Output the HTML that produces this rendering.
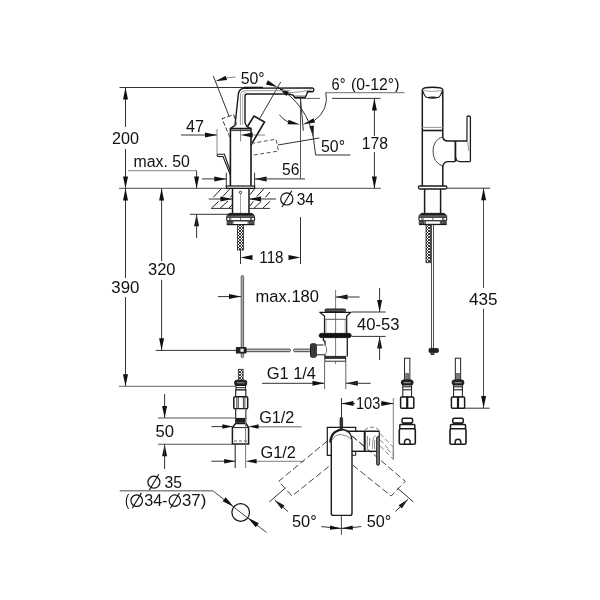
<!DOCTYPE html>
<html><head><meta charset="utf-8"><title>Faucet dimension drawing</title>
<style>
html,body{margin:0;padding:0;background:#fff;}
body{width:600px;height:600px;overflow:hidden;}
svg{display:block;will-change:transform;}
text{font-family:"Liberation Sans",sans-serif;fill:#111;}
</style></head><body>
<svg width="600" height="600" viewBox="0 0 600 600">
<defs>
<pattern id="braid" width="3" height="3" patternUnits="userSpaceOnUse">
<rect width="3" height="3" fill="#fff"/><path d="M0,3 L3,0 M0,0 L3,3" stroke="#222" stroke-width="0.9"/>
</pattern>
</defs>
<rect width="600" height="600" fill="#fff"/>
<line x1="119.5" y1="87.5" x2="263" y2="87.5" stroke="#333" stroke-width="1" />
<line x1="125.5" y1="87.5" x2="125.5" y2="127" stroke="#333" stroke-width="1" />
<line x1="125.5" y1="149" x2="125.5" y2="188.4" stroke="#333" stroke-width="1" />
<polygon points="125.50,87.50 128.00,99.50 123.00,99.50" fill="#111"/>
<polygon points="125.50,188.40 123.00,176.40 128.00,176.40" fill="#111"/>
<line x1="119" y1="188.4" x2="381" y2="188.4" stroke="#707070" stroke-width="1.2" />
<line x1="125.5" y1="188.4" x2="125.5" y2="278" stroke="#333" stroke-width="1" />
<line x1="125.5" y1="297" x2="125.5" y2="386.3" stroke="#333" stroke-width="1" />
<polygon points="125.50,188.40 128.00,200.40 123.00,200.40" fill="#111"/>
<polygon points="125.50,386.30 123.00,374.30 128.00,374.30" fill="#111"/>
<line x1="119" y1="386.3" x2="236" y2="386.3" stroke="#808080" stroke-width="1.2" />
<line x1="161.6" y1="188.4" x2="161.6" y2="261" stroke="#333" stroke-width="1" />
<line x1="161.6" y1="279.8" x2="161.6" y2="350.3" stroke="#333" stroke-width="1" />
<polygon points="161.60,188.40 164.10,200.40 159.10,200.40" fill="#111"/>
<polygon points="161.60,350.30 159.10,338.30 164.10,338.30" fill="#111"/>
<line x1="155.7" y1="350.4" x2="236.4" y2="350.4" stroke="#333" stroke-width="1" />
<text transform="translate(112.00,143.6) scale(0.9507,1)" font-size="17">200</text>
<text transform="translate(111.30,292.8) scale(0.9894,1)" font-size="17">390</text>
<text transform="translate(148.00,275) scale(0.9718,1)" font-size="17">320</text>
<line x1="128" y1="170.6" x2="196.6" y2="170.6" stroke="#999" stroke-width="1.4" />
<line x1="196.6" y1="170.6" x2="196.6" y2="188.4" stroke="#333" stroke-width="1" />
<polygon points="196.60,188.40 194.10,176.40 199.10,176.40" fill="#111"/>
<polygon points="196.60,214.30 199.10,226.30 194.10,226.30" fill="#111"/>
<line x1="196.6" y1="214.3" x2="196.6" y2="238" stroke="#333" stroke-width="1" />
<line x1="190" y1="214.3" x2="232" y2="214.3" stroke="#333" stroke-width="1" />
<text transform="translate(133.60,167) scale(0.9322,1)" font-size="17">max. 50</text>
<line x1="181" y1="135" x2="217" y2="135" stroke="#333" stroke-width="1" />
<polygon points="217.00,135.00 205.00,137.50 205.00,132.50" fill="#111"/>
<line x1="217" y1="129" x2="217" y2="154" stroke="#888" stroke-width="1" />
<line x1="250" y1="135" x2="265" y2="135" stroke="#999" stroke-width="1.2" />
<line x1="240.6" y1="128" x2="240.6" y2="141.5" stroke="#888" stroke-width="1" />
<polygon points="240.60,135.00 252.60,132.50 252.60,137.50" fill="#111"/>
<text transform="translate(186.00,131.6) scale(0.9524,1)" font-size="17">47</text>
<line x1="202" y1="178.9" x2="226.3" y2="178.9" stroke="#333" stroke-width="1" />
<polygon points="226.30,178.90 214.30,181.40 214.30,176.40" fill="#111"/>
<polygon points="254.60,178.90 266.60,176.40 266.60,181.40" fill="#111"/>
<line x1="254.6" y1="178.9" x2="305" y2="178.9" stroke="#333" stroke-width="1" />
<line x1="226.3" y1="172.7" x2="226.3" y2="186" stroke="#333" stroke-width="1" />
<line x1="254.6" y1="172.7" x2="254.6" y2="186" stroke="#333" stroke-width="1" />
<line x1="300.5" y1="98.4" x2="300.5" y2="179" stroke="#555" stroke-width="1" />
<text transform="translate(282.00,175) scale(0.9206,1)" font-size="17">56</text>
<line x1="332" y1="98.4" x2="380.5" y2="98.4" stroke="#333" stroke-width="1" />
<line x1="294.7" y1="98.4" x2="320" y2="98.4" stroke="#666" stroke-width="1" />
<line x1="374.4" y1="98.4" x2="374.4" y2="136" stroke="#333" stroke-width="1" />
<line x1="374.4" y1="152" x2="374.4" y2="188.4" stroke="#333" stroke-width="1" />
<polygon points="374.40,98.40 376.90,110.40 371.90,110.40" fill="#111"/>
<polygon points="374.40,188.40 371.90,176.40 376.90,176.40" fill="#111"/>
<text transform="translate(361.80,149) scale(0.9225,1)" font-size="17">178</text>
<text transform="translate(331.60,89.6) scale(0.8589,1)" font-size="17">6°</text>
<text transform="translate(351.00,89.6) scale(0.9290,1)" font-size="17">(0-12°)</text>
<path d="M404.6,92.6 L325.6,92.6" stroke="#8a8a8a" stroke-width="1.3" fill="none" />
<path d="M325.8,92.6 A26,26 0 0 1 314.5,120.4" stroke="#333" stroke-width="1" fill="none" />
<polygon points="302.80,124.50 313.63,118.23 315.16,122.56" fill="#111"/>
<path d="M279.3,114.7 A26,26 0 0 0 288,122" stroke="#333" stroke-width="1" fill="none" />
<polygon points="300.00,124.50 287.59,124.21 288.54,119.71" fill="#111"/>
<line x1="300.5" y1="98.4" x2="303.3" y2="130.7" stroke="#333" stroke-width="1" />
<text transform="translate(321.00,151.6) scale(0.9339,1)" font-size="17">50°</text>
<path d="M350.4,155 L315.6,155 L313.3,137" stroke="#333" stroke-width="1" fill="none" />
<polygon points="313.50,137.60 309.25,126.14 313.79,125.38" fill="#111"/>
<path d="M277.8,87.3 A73,73 0 0 1 313.4,137.5" stroke="#333" stroke-width="1" fill="none" />
<polygon points="277.80,87.30 265.89,84.51 267.88,80.14" fill="#111"/>
<polygon points="277.80,87.30 289.13,91.92 286.48,95.92" fill="#111"/>
<line x1="280.7" y1="82" x2="260" y2="118" stroke="#333" stroke-width="1" />
<line x1="278" y1="145" x2="319.3" y2="138" stroke="#333" stroke-width="1" />
<text transform="translate(240.70,84) scale(0.9339,1)" font-size="17">50°</text>
<line x1="213.3" y1="76" x2="229" y2="116" stroke="#333" stroke-width="1" />
<polygon points="215.40,81.30 225.74,75.79 227.06,80.09" fill="#111"/>
<line x1="226.3" y1="78" x2="235.7" y2="77" stroke="#888" stroke-width="1" />
<path d="M230.4,186 L230.4,128.6 L251,128.6 L251,186" stroke="#1a1a1a" stroke-width="1.6" fill="none" />
<line x1="230.4" y1="130.6" x2="251" y2="130.6" stroke="#333" stroke-width="1" />
<rect x="226.3" y="186" width="28.3" height="2.4" rx="0" stroke="#1a1a1a" stroke-width="1.2" fill="none"/>
<path d="M230.4,128.6 L235,125.3 L237,106.7 L238.3,94.7 Q239,88.2 244.5,88.2 L312.2,87.9 Q314.4,88.6 313.5,90.8 L312.6,91.7 L307.6,91.7 L306.4,95 L305,97.5 L294.7,97.5 L293,95.2 L289,94 L247,94 Q245,94 245,96.7 L245,122.7 L247,126.7 L251,128.6" stroke="#1a1a1a" stroke-width="1.4" fill="none" />
<line x1="294.3" y1="96" x2="305.8" y2="96" stroke="#444" stroke-width="0.8" />
<path d="M288,92.7 Q299,92.5 311.8,89.9" stroke="#888" stroke-width="0.9" fill="none" />
<path d="M240.4,125 L240.4,96 Q240.4,90.8 245,90.8 L290,90.6" stroke="#999" stroke-width="1" fill="none" />
<path d="M242.6,125 L242.6,97 Q242.6,92.6 246,92.6" stroke="#bbb" stroke-width="1" fill="none" />
<line x1="263" y1="87.5" x2="244" y2="87.5" stroke="#1a1a1a" stroke-width="1.6" />
<path d="M247.5,126.5 L254,116 L264.5,122 L251,145" stroke="#1a1a1a" stroke-width="1.6" fill="none" />
<path d="M230,137.5 L222,118.7 L233.7,114.7 L236.5,124.5" stroke="#333" stroke-width="1" fill="none" stroke-dasharray="4.5 2"/>
<path d="M251,143.5 L276,139.2 L278.5,151 L251,155.5" stroke="#555" stroke-width="1" fill="none" stroke-dasharray="4 2.5"/>
<path d="M217.8,154.2 L224.4,154.2 L230.4,171.3" stroke="#1a1a1a" stroke-width="1.1" fill="none" />
<path d="M217.8,156.5 L223,156.5 L230.4,175" stroke="#1a1a1a" stroke-width="1.1" fill="none" />
<path d="M217.8,154.2 Q216.3,155.3 217.8,156.5" stroke="#1a1a1a" stroke-width="1.1" fill="none" />
<path d="M232.5,188.4 L232.5,213.3 M249,188.4 L249,213.3" stroke="#1a1a1a" stroke-width="1.5" fill="none" />
<circle cx="240.5" cy="192.4" r="1.2" fill="none" stroke="#222" stroke-width="0.9"/>
<line x1="240.5" y1="194" x2="240.5" y2="220" stroke="#888" stroke-width="0.8" />
<line x1="213.3" y1="197.3" x2="221.3" y2="188.7" stroke="#222" stroke-width="1" />
<line x1="222.7" y1="196.7" x2="230" y2="188.7" stroke="#222" stroke-width="1" />
<line x1="230.4" y1="197.3" x2="232.4" y2="195" stroke="#222" stroke-width="1" />
<line x1="211.3" y1="208.3" x2="218.7" y2="201.3" stroke="#222" stroke-width="1" />
<line x1="220" y1="208.3" x2="228" y2="201" stroke="#222" stroke-width="1" />
<line x1="228.7" y1="208.3" x2="232.4" y2="204.5" stroke="#222" stroke-width="1" />
<line x1="250" y1="194.7" x2="254.7" y2="188.7" stroke="#222" stroke-width="1" />
<line x1="256.7" y1="196.7" x2="264" y2="188.7" stroke="#222" stroke-width="1" />
<line x1="265.3" y1="197.3" x2="270" y2="192" stroke="#222" stroke-width="1" />
<line x1="250" y1="206" x2="253.3" y2="201.3" stroke="#222" stroke-width="1" />
<line x1="254" y1="208.3" x2="261.3" y2="201.3" stroke="#222" stroke-width="1" />
<line x1="262.7" y1="208.3" x2="270" y2="201.3" stroke="#222" stroke-width="1" />
<line x1="208.7" y1="199" x2="232.4" y2="199" stroke="#333" stroke-width="1" />
<polygon points="232.40,199.00 220.40,201.50 220.40,196.50" fill="#111"/>
<line x1="249" y1="199" x2="276" y2="199" stroke="#333" stroke-width="1" />
<polygon points="249.00,199.00 261.00,196.50 261.00,201.50" fill="#111"/>
<line x1="211" y1="208.4" x2="232.4" y2="208.4" stroke="#333" stroke-width="1" />
<line x1="249" y1="208.4" x2="270" y2="208.4" stroke="#333" stroke-width="1" />
<circle cx="286.8" cy="198.9" r="6.1" fill="none" stroke="#111" stroke-width="1.2"/>
<line x1="282.04200000000003" y1="207.013" x2="291.802" y2="190.787" stroke="#111" stroke-width="1.1" />
<text transform="translate(296.70,205) scale(0.9153,1)" font-size="17">34</text>
<path d="M229.29999999999998,213.4 L252.0,213.4 L254.5,215.8 L254.5,217.3 L226.7,217.3 L226.7,215.8 Z" stroke="#1a1a1a" stroke-width="0.8" fill="#8a8a8a" />
<path d="M229.29999999999998,213.8 L252.0,213.8 L253.6,215.20000000000002 L227.6,215.20000000000002 Z" stroke="#1a1a1a" stroke-width="0.8" fill="#1a1a1a" />
<rect x="226.7" y="217.3" width="27.9" height="3.6" rx="1.2" stroke="#1a1a1a" stroke-width="1.1" fill="#fff"/>
<line x1="229.6" y1="217.6" x2="229.6" y2="220.6" stroke="#333" stroke-width="0.8" />
<line x1="230.79999999999998" y1="217.6" x2="230.79999999999998" y2="220.6" stroke="#333" stroke-width="0.8" />
<line x1="240.6" y1="217.6" x2="240.6" y2="220.6" stroke="#333" stroke-width="0.8" />
<line x1="250.4" y1="217.6" x2="250.4" y2="220.6" stroke="#333" stroke-width="0.8" />
<line x1="251.6" y1="217.6" x2="251.6" y2="220.6" stroke="#333" stroke-width="0.8" />
<rect x="233.0" y="221.0" width="15.1" height="3.4" rx="0" stroke="#1a1a1a" stroke-width="0.8" fill="#fff"/>
<rect x="227.0" y="221.1" width="5" height="3.3" rx="0.8" stroke="#1a1a1a" stroke-width="0.6" fill="#555"/>
<rect x="249.2" y="221.1" width="5" height="3.3" rx="0.8" stroke="#1a1a1a" stroke-width="0.6" fill="#555"/>
<line x1="226.79999999999998" y1="224.6" x2="254.4" y2="224.6" stroke="#1a1a1a" stroke-width="1.2" />
<rect x="237.4" y="224.8" width="6" height="25.19999999999999" fill="url(#braid)" stroke="#222" stroke-width="0.8"/>
<line x1="240.5" y1="250" x2="240.5" y2="264" stroke="#333" stroke-width="1" />
<line x1="300.5" y1="217" x2="300.5" y2="264" stroke="#333" stroke-width="1" />
<polygon points="240.50,257.60 252.50,255.10 252.50,260.10" fill="#111"/>
<polygon points="300.50,257.60 288.50,260.10 288.50,255.10" fill="#111"/>
<text transform="translate(259.30,263) scale(0.8967,1)" font-size="17">118</text>
<rect x="241.2" y="275.6" width="2.4" height="82" rx="1" stroke="#444" stroke-width="0.8" fill="#aaa"/>
<line x1="218" y1="296.6" x2="241" y2="296.6" stroke="#333" stroke-width="1" />
<polygon points="241.00,296.60 229.00,299.10 229.00,294.10" fill="#111"/>
<text transform="translate(255.60,302) scale(0.9724,1)" font-size="17">max.180</text>
<rect x="246" y="349.1" width="44.4" height="2.6" rx="1" stroke="#333" stroke-width="0.9" fill="#ccc"/>
<rect x="293.6" y="349.1" width="17" height="2.6" rx="1" stroke="#333" stroke-width="0.9" fill="#ccc"/>
<rect x="236.4" y="347.6" width="9.6" height="5.4" rx="0" stroke="#1a1a1a" stroke-width="1" fill="#222"/>
<rect x="240.8" y="349" width="2.6" height="2.6" rx="0" stroke="#fff" stroke-width="0.6" fill="#ddd"/>
<line x1="335.6" y1="290" x2="335.6" y2="364" stroke="#555" stroke-width="0.8" />
<polygon points="335.60,297.00 347.60,294.50 347.60,299.50" fill="#111"/>
<line x1="335.6" y1="297" x2="359.6" y2="297" stroke="#333" stroke-width="1" />
<rect x="325" y="309" width="20.6" height="2.8" rx="1.2" stroke="#1a1a1a" stroke-width="1" fill="#555"/>
<line x1="319.3" y1="312.4" x2="351.4" y2="312.4" stroke="#1a1a1a" stroke-width="1.4" />
<path d="M320.5,313 L324.5,316 L324.5,333.3 M350.2,313 L346.7,316 L346.7,333.3" stroke="#1a1a1a" stroke-width="1.2" fill="none" />
<line x1="324.5" y1="319.3" x2="346.7" y2="319.3" stroke="#444" stroke-width="0.9" />
<line x1="326" y1="319.3" x2="326" y2="333" stroke="#777" stroke-width="0.7" />
<line x1="345.2" y1="319.3" x2="345.2" y2="333" stroke="#777" stroke-width="0.7" />
<rect x="319.2" y="333.4" width="32" height="4.2" rx="2.1" stroke="#1a1a1a" stroke-width="1" fill="#111"/>
<path d="M323.4,337.6 L323.4,340.5 L325,341.2 L325,345 M325,354.8 L325,356.4 M347.3,337.6 L347.3,356.4" stroke="#1a1a1a" stroke-width="1.3" fill="none" />
<path d="M325,345 Q328.5,350 325,354.8" stroke="#555" stroke-width="0.8" fill="none" />
<rect x="324.9" y="356.3" width="20.8" height="2" rx="0" stroke="#1a1a1a" stroke-width="0.8" fill="#333"/>
<rect x="324.9" y="358.3" width="20.8" height="2.9" rx="0" stroke="#1a1a1a" stroke-width="0.9" fill="#fff"/>
<rect x="310.5" y="343.8" width="5.8" height="13.4" rx="1.5" stroke="#1a1a1a" stroke-width="1" fill="#555"/>
<line x1="311.8" y1="344.5" x2="311.8" y2="356.5" stroke="#111" stroke-width="0.6" />
<line x1="313.2" y1="344.5" x2="313.2" y2="356.5" stroke="#111" stroke-width="0.6" />
<line x1="314.6" y1="344.5" x2="314.6" y2="356.5" stroke="#111" stroke-width="0.6" />
<path d="M316.3,345 L323.4,345 M316.3,354.8 L325,354.8" stroke="#1a1a1a" stroke-width="1" fill="none" />
<line x1="351.6" y1="312" x2="385.6" y2="312" stroke="#333" stroke-width="1" />
<line x1="351.6" y1="336.4" x2="385.6" y2="336.4" stroke="#333" stroke-width="1" />
<line x1="379.6" y1="288" x2="379.6" y2="312" stroke="#333" stroke-width="1" />
<polygon points="379.60,312.00 377.10,300.00 382.10,300.00" fill="#111"/>
<polygon points="379.60,336.40 382.10,348.40 377.10,348.40" fill="#111"/>
<line x1="379.6" y1="336.4" x2="379.6" y2="360" stroke="#333" stroke-width="1" />
<text transform="translate(357.00,330) scale(0.9793,1)" font-size="17">40-53</text>
<text transform="translate(266.70,379.3) scale(0.9667,1)" font-size="17">G1 1/4</text>
<line x1="262" y1="383.3" x2="324.5" y2="383.3" stroke="#333" stroke-width="1" />
<polygon points="324.50,383.30 312.50,385.80 312.50,380.80" fill="#111"/>
<polygon points="345.80,383.30 357.80,380.80 357.80,385.80" fill="#111"/>
<line x1="345.8" y1="383.3" x2="370.7" y2="383.3" stroke="#333" stroke-width="1" />
<line x1="324.6" y1="361.2" x2="324.6" y2="389" stroke="#666" stroke-width="1" />
<line x1="345.8" y1="361.2" x2="345.8" y2="389" stroke="#666" stroke-width="1" />
<rect x="238.3" y="369.3" width="4.8" height="11" rx="0" stroke="#222" stroke-width="0.8" fill="url(#braid)"/>
<rect x="234.7" y="380.2" width="12" height="5.3" rx="2" stroke="#1a1a1a" stroke-width="1" fill="#222"/>
<line x1="237" y1="382.8" x2="244.5" y2="382.8" stroke="#bbb" stroke-width="0.8" />
<rect x="236" y="385.5" width="9.6" height="4.5" rx="0" stroke="#1a1a1a" stroke-width="1" fill="#fff"/>
<line x1="236" y1="387.7" x2="245.6" y2="387.7" stroke="#222" stroke-width="1" />
<rect x="235.7" y="390" width="10.1" height="6.7" rx="0" stroke="#1a1a1a" stroke-width="1.1" fill="#fff"/>
<rect x="233.8" y="396.7" width="13.9" height="12" rx="1.2" stroke="#1a1a1a" stroke-width="1.5" fill="#fff"/>
<line x1="236.8" y1="397" x2="236.8" y2="408.5" stroke="#333" stroke-width="0.9" />
<line x1="238.3" y1="397" x2="238.3" y2="408.5" stroke="#333" stroke-width="0.9" />
<line x1="243.4" y1="397" x2="243.4" y2="408.5" stroke="#333" stroke-width="0.9" />
<line x1="244.9" y1="397" x2="244.9" y2="408.5" stroke="#333" stroke-width="0.9" />
<rect x="235.7" y="408.7" width="10.1" height="9.8" rx="0" stroke="#1a1a1a" stroke-width="1.1" fill="#fff"/>
<rect x="235.7" y="418.5" width="10.1" height="3.7" rx="0" stroke="#1a1a1a" stroke-width="1" fill="#222"/>
<path d="M235.5,423.5 L246,423.5 L248.6,427.5 L248.6,444 L232.4,444 L232.4,427.5 Z" stroke="#1a1a1a" stroke-width="1.5" fill="#fff" />
<line x1="232.4" y1="427.6" x2="248.6" y2="427.6" stroke="#222" stroke-width="1" />
<line x1="234" y1="441" x2="247" y2="441" stroke="#444" stroke-width="0.8" stroke-dasharray="3 2"/>
<line x1="235.2" y1="444" x2="235.2" y2="468" stroke="#333" stroke-width="1.1" />
<line x1="245.6" y1="408.7" x2="245.6" y2="468" stroke="#777" stroke-width="1" />
<line x1="164.6" y1="394" x2="164.6" y2="418" stroke="#333" stroke-width="1" />
<polygon points="164.60,418.00 162.10,406.00 167.10,406.00" fill="#111"/>
<line x1="158" y1="418" x2="236" y2="418" stroke="#555" stroke-width="1.1" />
<line x1="158" y1="444.2" x2="235" y2="444.2" stroke="#555" stroke-width="1.1" />
<polygon points="164.60,444.20 167.10,456.20 162.10,456.20" fill="#111"/>
<line x1="164.6" y1="444.2" x2="164.6" y2="469" stroke="#333" stroke-width="1" />
<text transform="translate(155.50,437.3) scale(0.9788,1)" font-size="17">50</text>
<line x1="211.5" y1="426.6" x2="232.4" y2="426.6" stroke="#333" stroke-width="1" />
<polygon points="232.40,426.60 222.40,428.85 222.40,424.35" fill="#111"/>
<line x1="256" y1="426.8" x2="301.8" y2="426.8" stroke="#999" stroke-width="1.4" />
<polygon points="248.60,426.60 258.60,424.35 258.60,428.85" fill="#111"/>
<text transform="translate(259.20,423.2) scale(0.9539,1)" font-size="17">G1/2</text>
<line x1="211.3" y1="461.2" x2="235.2" y2="461.2" stroke="#333" stroke-width="1" />
<polygon points="235.20,461.20 224.20,463.45 224.20,458.95" fill="#111"/>
<line x1="255" y1="461.4" x2="303.6" y2="461.4" stroke="#999" stroke-width="1.4" />
<polygon points="245.60,461.20 256.60,458.95 256.60,463.45" fill="#111"/>
<text transform="translate(260.60,458.1) scale(0.9593,1)" font-size="17">G1/2</text>
<circle cx="153.9" cy="482.2" r="6" fill="none" stroke="#111" stroke-width="1.2"/>
<line x1="149.22" y1="490.18" x2="158.82" y2="474.21999999999997" stroke="#111" stroke-width="1.1" />
<text transform="translate(164.50,487.6) scale(0.9259,1)" font-size="17">35</text>
<path d="M119.7,490.7 L212.7,490.7" stroke="#888" stroke-width="1.4" fill="none" />
<path d="M212.7,490.7 L266.5,532.5" stroke="#444" stroke-width="1" fill="none" />
<text transform="translate(125.00,505.8) scale(0.7368,1)" font-size="17">(</text>
<circle cx="136.7" cy="500.6" r="5.8" fill="none" stroke="#111" stroke-width="1.2"/>
<line x1="132.176" y1="508.314" x2="141.456" y2="492.886" stroke="#111" stroke-width="1.1" />
<text transform="translate(144.20,505.8) scale(0.9472,1)" font-size="17">34-</text>
<circle cx="174.8" cy="500.6" r="5.7" fill="none" stroke="#111" stroke-width="1.2"/>
<line x1="170.354" y1="508.18100000000004" x2="179.47400000000002" y2="493.019" stroke="#111" stroke-width="1.1" />
<text transform="translate(182.00,505.8) scale(0.9878,1)" font-size="17">37)</text>
<circle cx="240.7" cy="512.5" r="8.8" fill="#fff" stroke="#111" stroke-width="1.2"/>
<line x1="233" y1="506.5" x2="248.5" y2="518.6" stroke="#444" stroke-width="1" />
<polygon points="233.60,506.70 222.61,501.27 225.69,497.34" fill="#111"/>
<polygon points="247.80,517.80 258.79,523.23 255.71,527.16" fill="#111"/>
<path d="M422.3,186 L422.3,90 Q422.3,87.3 432.5,87.3 Q442.8,87.3 442.8,90 L442.8,136.5 Q443,141 448,141 L467,141" stroke="#1a1a1a" stroke-width="1.5" fill="none" />
<path d="M442.8,186 L442.8,166" stroke="#1a1a1a" stroke-width="1.5" fill="none" />
<path d="M423.3,91.5 Q424,96 427,97.5 L438.4,97.5 Q441,96 441.8,91.5" stroke="#1a1a1a" stroke-width="1.1" fill="none" />
<path d="M422.8,90.5 Q432.5,92.5 442.3,90.5" stroke="#888" stroke-width="0.8" fill="none" />
<ellipse cx="432.5" cy="97.6" rx="4.8" ry="1.2" fill="#222"/>
<line x1="422.3" y1="127.4" x2="442.8" y2="127.4" stroke="#999" stroke-width="1" />
<line x1="422.3" y1="130.5" x2="442.8" y2="130.5" stroke="#1a1a1a" stroke-width="1.6" />
<path d="M442.8,136.7 Q433,140 433,151.3 Q433,162.5 442.8,166" stroke="#333" stroke-width="0.9" fill="none" />
<path d="M442.8,166 Q444,161.6 448,161.6 L455.3,161.6" stroke="#1a1a1a" stroke-width="1.4" fill="none" />
<line x1="455.4" y1="141" x2="455.4" y2="161.6" stroke="#1a1a1a" stroke-width="1.8" />
<path d="M455.4,156.5 Q456,161.6 460,161.6 L470.4,161.6" stroke="#1a1a1a" stroke-width="1.3" fill="none" />
<path d="M467,141 L467,117 Q467,116 468.7,116 Q470.4,116 470.4,117 L470.4,161.6" stroke="#1a1a1a" stroke-width="1.3" fill="none" />
<path d="M467,117 L467.3,133 Q467.6,146 469,151" stroke="#888" stroke-width="0.9" fill="none" />
<rect x="418.4" y="186" width="28.4" height="3" rx="1.5" stroke="#1a1a1a" stroke-width="1.3" fill="#fff"/>
<line x1="446.8" y1="188.2" x2="490" y2="188.2" stroke="#333" stroke-width="1" />
<path d="M424.6,189 L424.6,213.3 M440.6,189 L440.6,213.3" stroke="#1a1a1a" stroke-width="1.5" fill="none" />
<path d="M421.5,213.3 L444.2,213.3 L446.7,215.70000000000002 L446.7,217.20000000000002 L418.90000000000003,217.20000000000002 L418.90000000000003,215.70000000000002 Z" stroke="#1a1a1a" stroke-width="0.8" fill="#8a8a8a" />
<path d="M421.5,213.70000000000002 L444.2,213.70000000000002 L445.8,215.10000000000002 L419.8,215.10000000000002 Z" stroke="#1a1a1a" stroke-width="0.8" fill="#1a1a1a" />
<rect x="418.90000000000003" y="217.20000000000002" width="27.9" height="3.6" rx="1.2" stroke="#1a1a1a" stroke-width="1.1" fill="#fff"/>
<line x1="421.8" y1="217.5" x2="421.8" y2="220.5" stroke="#333" stroke-width="0.8" />
<line x1="423.0" y1="217.5" x2="423.0" y2="220.5" stroke="#333" stroke-width="0.8" />
<line x1="432.8" y1="217.5" x2="432.8" y2="220.5" stroke="#333" stroke-width="0.8" />
<line x1="442.6" y1="217.5" x2="442.6" y2="220.5" stroke="#333" stroke-width="0.8" />
<line x1="443.8" y1="217.5" x2="443.8" y2="220.5" stroke="#333" stroke-width="0.8" />
<rect x="425.2" y="220.9" width="15.1" height="3.4" rx="0" stroke="#1a1a1a" stroke-width="0.8" fill="#fff"/>
<rect x="419.2" y="221.0" width="5" height="3.3" rx="0.8" stroke="#1a1a1a" stroke-width="0.6" fill="#555"/>
<rect x="441.40000000000003" y="221.0" width="5" height="3.3" rx="0.8" stroke="#1a1a1a" stroke-width="0.6" fill="#555"/>
<line x1="419.0" y1="224.5" x2="446.6" y2="224.5" stroke="#1a1a1a" stroke-width="1.2" />
<rect x="426" y="224.8" width="4.4" height="37.89999999999998" fill="url(#braid)" stroke="#222" stroke-width="0.8"/>
<rect x="431.4" y="224.8" width="2" height="124" rx="0" stroke="#222" stroke-width="0.8" fill="#fff"/>
<rect x="429" y="348.4" width="9.4" height="4" rx="1" stroke="#1a1a1a" stroke-width="0.8" fill="#222"/>
<rect x="431" y="352" width="3" height="2.4" rx="0" stroke="#1a1a1a" stroke-width="0.8" fill="#555"/>
<line x1="483.5" y1="188.2" x2="483.5" y2="288" stroke="#4a4a4a" stroke-width="1" />
<line x1="483.5" y1="308.7" x2="483.5" y2="408" stroke="#4a4a4a" stroke-width="1" />
<polygon points="483.60,188.20 486.10,200.20 481.10,200.20" fill="#111"/>
<polygon points="483.60,408.00 481.10,396.00 486.10,396.00" fill="#111"/>
<line x1="452" y1="408.2" x2="489.6" y2="408.2" stroke="#333" stroke-width="1" />
<text transform="translate(469.00,305) scale(1.0070,1)" font-size="17">435</text>
<rect x="404.55" y="358.2" width="5.3" height="22" rx="0" stroke="#222" stroke-width="1" fill="#fff"/>
<rect x="405.8" y="373.5" width="2.8" height="6.5" rx="0" stroke="#333" stroke-width="0.5" fill="#777"/>
<rect x="401.4" y="380" width="11.6" height="5" rx="2" stroke="#1a1a1a" stroke-width="1" fill="#222"/>
<line x1="403.7" y1="382.7" x2="410.7" y2="382.7" stroke="#ccc" stroke-width="0.8" />
<rect x="402.8" y="385" width="8.8" height="12" rx="0" stroke="#1a1a1a" stroke-width="1" fill="#fff"/>
<line x1="402.8" y1="386.8" x2="411.59999999999997" y2="386.8" stroke="#222" stroke-width="1.1" />
<line x1="402.8" y1="389.8" x2="411.59999999999997" y2="389.8" stroke="#222" stroke-width="1.1" />
<rect x="400.59999999999997" y="397" width="13.2" height="11.3" rx="1" stroke="#1a1a1a" stroke-width="1.5" fill="#fff"/>
<line x1="407.2" y1="397" x2="407.2" y2="408.3" stroke="#1a1a1a" stroke-width="2.2" />
<rect x="455.35" y="358.2" width="5.3" height="22" rx="0" stroke="#222" stroke-width="1" fill="#fff"/>
<rect x="456.6" y="373.5" width="2.8" height="6.5" rx="0" stroke="#333" stroke-width="0.5" fill="#777"/>
<rect x="452.2" y="380" width="11.6" height="5" rx="2" stroke="#1a1a1a" stroke-width="1" fill="#222"/>
<line x1="454.5" y1="382.7" x2="461.5" y2="382.7" stroke="#ccc" stroke-width="0.8" />
<rect x="453.6" y="385" width="8.8" height="12" rx="0" stroke="#1a1a1a" stroke-width="1" fill="#fff"/>
<line x1="453.6" y1="386.8" x2="462.4" y2="386.8" stroke="#222" stroke-width="1.1" />
<line x1="453.6" y1="389.8" x2="462.4" y2="389.8" stroke="#222" stroke-width="1.1" />
<rect x="451.4" y="397" width="13.2" height="11.3" rx="1" stroke="#1a1a1a" stroke-width="1.5" fill="#fff"/>
<line x1="458" y1="397" x2="458" y2="408.3" stroke="#1a1a1a" stroke-width="2.2" />
<rect x="402.0" y="418.2" width="10.6" height="4.8" rx="1.5" stroke="#1a1a1a" stroke-width="1.5" fill="#fff"/>
<rect x="402.8" y="423" width="9" height="1.6" rx="0" stroke="#1a1a1a" stroke-width="0.3" fill="#222"/>
<rect x="399.8" y="424.5" width="15" height="4.3" rx="0.8" stroke="#1a1a1a" stroke-width="1.5" fill="#fff"/>
<rect x="399.3" y="428.8" width="16" height="15.4" rx="1.3" stroke="#1a1a1a" stroke-width="1.6" fill="#fff"/>
<path d="M404.5,444.2 L404.5,442 A2.8,2.8 0 0 1 410.1,442 L410.1,444.2" stroke="#1a1a1a" stroke-width="1.4" fill="none" />
<rect x="452.7" y="418.2" width="10.6" height="4.8" rx="1.5" stroke="#1a1a1a" stroke-width="1.5" fill="#fff"/>
<rect x="453.5" y="423" width="9" height="1.6" rx="0" stroke="#1a1a1a" stroke-width="0.3" fill="#222"/>
<rect x="450.5" y="424.5" width="15" height="4.3" rx="0.8" stroke="#1a1a1a" stroke-width="1.5" fill="#fff"/>
<rect x="450" y="428.8" width="16" height="15.4" rx="1.3" stroke="#1a1a1a" stroke-width="1.6" fill="#fff"/>
<path d="M455.2,444.2 L455.2,442 A2.8,2.8 0 0 1 460.8,442 L460.8,444.2" stroke="#1a1a1a" stroke-width="1.4" fill="none" />
<line x1="341.5" y1="398" x2="341.5" y2="417" stroke="#333" stroke-width="1" />
<line x1="393.4" y1="398" x2="393.4" y2="459.6" stroke="#999" stroke-width="1.3" />
<line x1="341.5" y1="403.6" x2="393.4" y2="403.6" stroke="#333" stroke-width="1" />
<polygon points="341.50,403.60 353.50,401.10 353.50,406.10" fill="#111"/>
<polygon points="393.40,403.60 381.40,406.10 381.40,401.10" fill="#111"/>
<rect x="355" y="396" width="26" height="14" fill="#fff"/>
<text transform="translate(356.00,409) scale(0.8592,1)" font-size="17">103</text>
<path d="M331.3,455.3 L327.3,455.3 L327.3,427.3 L355.7,427.3 L355.7,431.3" stroke="#1a1a1a" stroke-width="1.2" fill="none" />
<path d="M352,451.4 L355.7,451.4 L355.7,455.3 L352,455.3" stroke="#1a1a1a" stroke-width="1" fill="none" />
<path d="M327.3,441 L278.7,481.3 L292,496 L331.3,464.5" stroke="#444" stroke-width="1" fill="none" stroke-dasharray="6.5 3"/>
<path d="M352,436 L405.3,481.3 L391.2,496 L352,464.5" stroke="#444" stroke-width="1" fill="none" stroke-dasharray="6.5 3"/>
<path d="M331.3,513.5 L331.3,443 Q330.2,436 335,432.3 Q338.5,429.5 342,429.5 Q348,430 350.5,434.5 Q352,437 352,441 L352,513.5 Q352,515.4 350,515.4 L333.3,515.4 Q331.3,515.4 331.3,513.5 Z" stroke="#1a1a1a" stroke-width="1.4" fill="#fff" />
<path d="M330.2,442.5 Q330.6,436 334.6,432.4 Q338,429.9 341.5,429.8" stroke="#1a1a1a" stroke-width="2.1" fill="none" />
<path d="M331.9,440.5 Q335,434.2 341,434.6 Q347,435 351.2,439" stroke="#777" stroke-width="0.9" fill="none" />
<path d="M352,436 L366,447.9" stroke="#444" stroke-width="1" fill="none" stroke-dasharray="6.5 3"/>
<rect x="340.1" y="417.3" width="2.5" height="13" rx="1.2" stroke="#1a1a1a" stroke-width="0.8" fill="#333"/>
<line x1="346.7" y1="431.3" x2="379.3" y2="431.3" stroke="#1a1a1a" stroke-width="1.5" />
<line x1="352" y1="451.3" x2="376.7" y2="451.3" stroke="#1a1a1a" stroke-width="1.4" />
<line x1="364.7" y1="431.3" x2="364.7" y2="451.3" stroke="#1a1a1a" stroke-width="2" />
<line x1="379.3" y1="431.3" x2="379.3" y2="437" stroke="#1a1a1a" stroke-width="1.2" />
<rect x="376.7" y="436.7" width="2.6" height="28.6" rx="1.3" stroke="#1a1a1a" stroke-width="1" fill="#888"/>
<path d="M367.6,436 Q366.6,442 367.6,448 M369.8,438 L369.4,446" stroke="#666" stroke-width="0.8" fill="none" />
<path d="M372.5,449 L372.8,441 Q373.2,437 375.5,435.5 M374.6,449 L374.6,440" stroke="#777" stroke-width="0.8" fill="none" />
<path d="M364.7,430 Q368,427 373.3,427.2 Q377.4,427.6 379.3,431" stroke="#666" stroke-width="0.9" fill="none" stroke-dasharray="4 2"/>
<path d="M380,433.5 L393.3,447.3 M380,439.5 L388,448.5 M380.3,446 L393.3,459.3 M387.3,449 L393.3,455" stroke="#777" stroke-width="0.9" fill="none" stroke-dasharray="5 2.5"/>
<line x1="393.3" y1="447.3" x2="393.3" y2="459.3" stroke="#888" stroke-width="0.9" />
<line x1="341.4" y1="515.4" x2="341.4" y2="534.7" stroke="#444" stroke-width="1" />
<path d="M321.3,526.6 Q331,527.6 341.4,528.4 Q352,527.6 361.3,526.6" stroke="#333" stroke-width="1" fill="none" />
<polygon points="341.00,528.40 329.88,529.73 330.17,525.54" fill="#111"/>
<polygon points="341.80,528.40 352.63,525.54 352.92,529.73" fill="#111"/>
<text transform="translate(292.00,527.2) scale(0.9650,1)" font-size="17">50°</text>
<text transform="translate(366.70,527.2) scale(0.9533,1)" font-size="17">50°</text>
<line x1="269.3" y1="501.9" x2="285.3" y2="488" stroke="#333" stroke-width="1" />
<line x1="397.3" y1="488" x2="413.3" y2="501.9" stroke="#333" stroke-width="1" />
<polygon points="274.70,500.00 284.49,505.49 281.55,508.90" fill="#111"/>
<line x1="274.7" y1="500" x2="288" y2="511.5" stroke="#333" stroke-width="1" />
<polygon points="408.00,499.20 401.74,508.52 398.58,505.31" fill="#111"/>
<line x1="408" y1="499.2" x2="395.5" y2="511.5" stroke="#333" stroke-width="1" />
</svg>
</body></html>
